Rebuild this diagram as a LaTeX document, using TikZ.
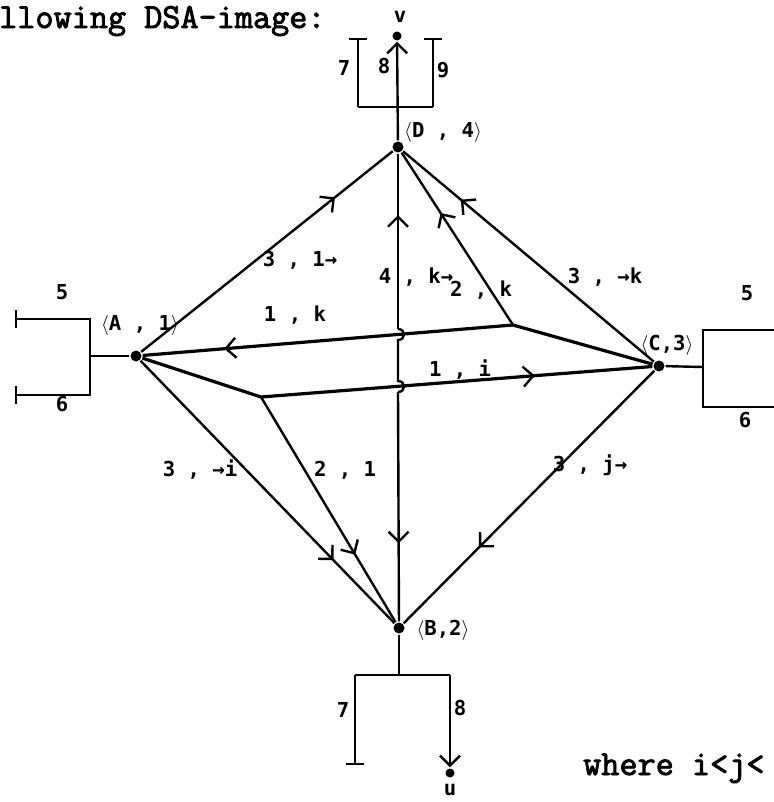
\documentclass[tikz,border=0pt]{standalone}
\usepackage{fontspec}
\newfontfamily\labelfont{DejaVu Sans Mono}
\newfontfamily\typewriter{Latin Modern Mono}[AutoFakeBold=2.5]
\usetikzlibrary{arrows.meta,decorations.markings}

\begin{document}
\begin{tikzpicture}[
  x=0.5pt, y=-0.5pt,
  font=\labelfont\bfseries\fontsize{10.3}{12}\selectfont,
  line width=1.2pt,
  dot/.style={circle, fill, inner sep=0pt, minimum size=5.5pt},
  lab/.style={inner sep=1pt},
  heavy/.style={line width=1.6pt},
  flow/.style={postaction={decorate}, decoration={markings,
      mark=at position #1 with {\arrow{Straight Barb[length=5pt,width=10pt,line width=1.2pt]}}}},
  flow/.default=0.5,
  tee/.style={-{Bar[width=9pt,line width=1.2pt]}},
  teetee/.style={{Bar[width=9pt,line width=1.2pt]}-{Bar[width=9pt,line width=1.2pt]}},
  outarr/.style={-{Straight Barb[length=5pt,width=10pt,line width=1.2pt]}},
  title/.style={font=\typewriter\bfseries\fontsize{17.6}{20}\selectfont, inner sep=0pt, anchor=base west}
]
  \useasboundingbox (0,0) rectangle (774,802);

  \node[title] (head) at (-2,28) {llowing DSA-image:};
  \node[title] (where) at (582,775) {where i<j<};

  % states
  \node[dot] (A) at (136,356) {};
  \node[dot] (B) at (399,628) {};
  \node[dot] (C) at (659,366) {};
  \node[dot] (D) at (398,147) {};
  \node[dot, minimum size=4.5pt] (v) at (397,36) {};
  \node[dot, minimum size=4.5pt] (u) at (450,773) {};
  \coordinate (Pk) at (513,325);
  \coordinate (Pi) at (261,397);

  \node[lab] (Alab) at (140,325) {$\langle$A , 1$\rangle$};
  \node[lab] (Blab) at (443,630) {$\langle$B,2$\rangle$};
  \node[lab] (Clab) at (667,345) {$\langle$C,3$\rangle$};
  \node[lab] (Dlab) at (443,132) {$\langle$D , 4$\rangle$};
  \node (vlab) at (400,17) {v};
  \node (ulab) at (450,790) {u};

  % exits of D
  \coordinate (Dbar) at (398,107);
  \coordinate (Dl) at (358,107);
  \coordinate (Dr) at (433,107);
  \coordinate (Dlt) at (358,38);
  \coordinate (Drt) at (433,38);
  \draw (Dl) -- (Dr);
  \draw[tee] (Dl) -- (Dlt);
  \draw[tee] (Dr) -- (Drt);
  \draw[outarr] (D) -- (v);
  \node (d7) at (344,68) {7};
  \node (d8) at (384,66) {8};
  \node (d9) at (443,70) {9};

  % exits of A
  \coordinate (Aj) at (90,356);
  \draw (A) -- (Aj);
  \draw[teetee] (15,319) -- (90,319) -- (90,395) -- (15,395);
  \node (a5) at (62,292) {5};
  \node (a6) at (62,404) {6};

  % exits of C
  \coordinate (Cj) at (703,367);
  \draw (C) -- (Cj);
  \draw (776,330) -- (703,330) -- (703,407) -- (776,407);
  \node (c5) at (747,293) {5};
  \node (c6) at (745,420) {6};

  % exits of B
  \coordinate (Bj) at (399,675);
  \coordinate (Bl) at (355,675);
  \coordinate (Br) at (450,675);
  \coordinate (Blb) at (355,765);
  \draw (B) -- (Bj);
  \draw (Bl) -- (Br);
  \draw[tee] (Bl) -- (Blb);
  \draw[outarr] (Br) -- (u);
  \node (b7) at (343,710) {7};
  \node (b8) at (460,708) {8};

  % transitions
  \draw[flow=0.77] (A) -- (D);
  \draw[flow=0.77] (C) -- (D);
  \draw[flow=0.65] (Pk) -- (D);
  \draw[heavy] (C) -- (Pk);
  \draw[heavy, flow=0.78] (Pk) -- (A);
  \draw[heavy] (A) -- (Pi);
  \draw[heavy, flow=0.70] (Pi) -- (C);
  \draw[flow=0.70] (Pi) -- (B);
  \draw[flow=0.76] (A) -- (B);
  \draw[flow=0.70] (C) -- (B);

  % vertical B--D with hops over the crossings
  \coordinate (h1) at (398,329);
  \coordinate (h2) at (398,340);
  \coordinate (h3) at (398,381);
  \coordinate (h4) at (398,392);
  \draw[flow=0.65] (h1) -- (D);
  \draw (h1) .. controls (406,329) and (406,340) .. (h2) -- (h3)
        .. controls (406,381) and (406,392) .. (h4);
  \draw[flow=0.66] (h4) -- (B);

  \node[lab] (l31) at (300,260) {3 , 1→};
  \node[lab] (l3k) at (605,277) {3 , →k};
  \node[lab] (l4k) at (416,277) {4 , k→};
  \node[lab] (l2k) at (481,290) {2 , k};
  \node[lab] (l1k) at (295,315) {1 , k};
  \node[lab] (l1i) at (460,370) {1 , i};
  \node[lab] (l3i) at (200,470) {3 , →i};
  \node[lab] (l21) at (345,470) {2 , 1};
  \node[lab] (l3j) at (590,465) {3 , j→};
\end{tikzpicture}
\end{document}
